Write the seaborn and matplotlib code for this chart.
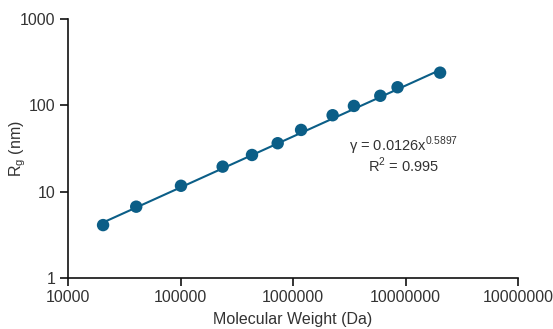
import numpy as np
import pandas as pd
import matplotlib
matplotlib.use("Agg")
import matplotlib.pyplot as plt
import seaborn as sns

# Molecular weight (Da) and radius of gyration (nm)
mw = [20500, 40400, 101000, 237000, 432000, 731000, 1180000, 2250000,
      3480000, 5970000, 8500000, 20300000]
rg = [4.1, 6.7, 11.7, 19.5, 26.6, 36.4, 51.9, 76.8, 98.4, 129, 162, 239]

# Power-law fit y = a * x^b
fit_a = 0.0126
fit_b = 0.5897
r_squared = 0.995

x_ticks = [1e4, 1e5, 1e6, 1e7, 1e8]
x_tick_labels = ["10000", "100000", "1000000", "10000000", "10000000"]
y_ticks = [1, 10, 100, 1000]
y_tick_labels = ["1", "10", "100", "1000"]

color = "#0b5e87"
text_color = "#333333"

sns.set_theme(style="white")
plt.rcParams["font.family"] = ["Liberation Sans", "DejaVu Sans"]
plt.rcParams["mathtext.fontset"] = "custom"
plt.rcParams["mathtext.rm"] = "Liberation Sans"

fig = plt.figure(figsize=(5.53, 3.29), dpi=100)
ax = fig.add_axes([68 / 553, 1 - 278 / 329, 450 / 553, 259 / 329])

df = pd.DataFrame({"mw": mw, "rg": rg})
fit_x = np.array([mw[0], mw[-1]], dtype=float)
fit_df = pd.DataFrame({"mw": fit_x, "rg": fit_a * fit_x ** fit_b})

sns.lineplot(data=fit_df, x="mw", y="rg", color=color, linewidth=1.5, ax=ax)
sns.scatterplot(data=df, x="mw", y="rg", color=color, s=80, edgecolor="none",
                ax=ax, zorder=3)

ax.set_xscale("log")
ax.set_yscale("log")
ax.set_xlim(1e4, 1e8)
ax.set_ylim(1, 1000)
ax.set_xticks(x_ticks)
ax.set_xticklabels(x_tick_labels)
ax.set_yticks(y_ticks)
ax.set_yticklabels(y_tick_labels)
ax.minorticks_off()

for side in ["top", "right"]:
    ax.spines[side].set_visible(False)
for side in ["left", "bottom"]:
    ax.spines[side].set_color("#111111")
    ax.spines[side].set_linewidth(1.2)

ax.tick_params(axis="both", which="major", direction="out", length=6,
               width=1.2, color="#111111", labelsize=11.5, labelcolor=text_color,
               bottom=True, left=True, pad=3)

ax.set_xlabel("Molecular Weight (Da)", fontsize=11.5, color=text_color, labelpad=5)
ax.set_ylabel(r"R$_\mathregular{g}$ (nm)", fontsize=11.5, color=text_color)
ax.yaxis.set_label_coords(-0.088, 0.5)

ax.text(0.745, 0.51, r"γ = 0.0126x$^{\mathregular{0.5897}}$",
        transform=ax.transAxes, ha="center", va="center", fontsize=10.5,
        color=text_color)
ax.text(0.745, 0.435, r"R$^{\mathregular{2}}$ = 0.995",
        transform=ax.transAxes, ha="center", va="center", fontsize=10.5,
        color=text_color)

fig.savefig("out.png", dpi=100, facecolor="white")
